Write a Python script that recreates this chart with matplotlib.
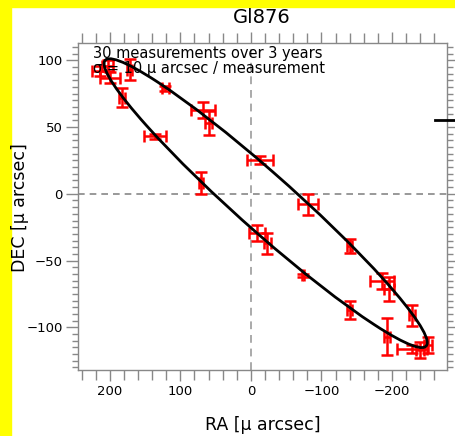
import matplotlib
matplotlib.use("Agg")
import matplotlib.pyplot as plt
from matplotlib.patches import Ellipse, Rectangle
from matplotlib.lines import Line2D
import numpy as np

plt.rcParams['font.family'] = ['DejaVu Sans']

# astrometric measurements (micro-arcsec)
ra = [214, 203, 200, 172, 183, 121, 136, 68, 60, 71, -13, -81, -140,
      -9, -23, -74, -186, -196, -228, -140, -193, -228, -240, -251]
dec = [92, 96, 87, 93, 72, 79, 43, 63, 53, 8, 25, -8, -39,
       -29, -37, -61, -65, -71, -91, -87, -107, -116, -117, -113]
ra_err = [11, 8, 14, 4, 4, 5, 16, 17, 5, 3, 18, 14, 4,
          11, 5, 2, 17, 7, 4, 4, 4, 21, 6, 6]
dec_err = [4, 4, 4, 8, 7, 2, 2, 6, 9, 8, 3, 8, 5,
           6, 8, 1, 6, 9, 8, 7, 14, 3, 6, 6]

# fitted orbit (ellipse in data units)
orbit_center = (-21, -7)
orbit_width = 504
orbit_height = 51
orbit_angle = 24.8

fig = plt.figure(figsize=(4.55, 4.36), dpi=100)
fig.patches.append(Rectangle((0, 0), 11 / 455, 1, transform=fig.transFigure,
                             color='#ffff00', zorder=-1))
fig.patches.append(Rectangle((0, 1 - 7 / 436), 1, 7 / 436, transform=fig.transFigure,
                             color='#ffff00', zorder=-1))

ax = fig.add_axes([78 / 455, 1 - 370 / 436, 369 / 455, 327 / 436])

ax.axvline(0, color='#aaaaaa', ls=(0, (4, 3)), lw=1.4, zorder=1)
ax.axhline(0, color='#888888', ls=(0, (4, 3)), lw=1.2, zorder=1)

ax.errorbar(ra, dec, xerr=ra_err, yerr=dec_err, fmt='none', ecolor='#ff0000',
            elinewidth=1.8, capsize=4.5, capthick=1.8, zorder=2)

ax.add_patch(Ellipse(orbit_center, orbit_width, orbit_height, angle=orbit_angle,
                     fill=False, ec='black', lw=2, zorder=3))

ax.set_xlim(245, -278)
ax.set_ylim(-132, 113)

ax.set_xticks([200, 100, 0, -100, -200])
ax.set_xticks(np.arange(240, -280, -20), minor=True)
ax.set_yticks([100, 50, 0, -50, -100])
ax.set_yticks(np.arange(-130, 115, 5), minor=True)
ax.tick_params(which='both', direction='out', color='#888888', top=True, right=True,
               labelsize=9.5, labelcolor='black', width=1)
ax.tick_params(axis='x', which='major', length=8, pad=3)
ax.tick_params(axis='x', which='minor', length=7)
ax.tick_params(axis='y', which='major', length=9, pad=2)
ax.tick_params(axis='y', which='minor', length=4.5)
for s in ax.spines.values():
    s.set_color('#888888')
    s.set_linewidth(1)

ax.set_xlabel('RA [μ arcsec]', fontsize=12.5)
ax.set_ylabel('DEC [μ arcsec]', fontsize=12.5)
ax.xaxis.set_label_coords(0.5, -0.141)
ax.yaxis.set_label_coords(-0.133, 0.498)

fig.text(262 / 455, 1 - 23 / 436, 'Gl876', ha='center', va='baseline', fontsize=14)
fig.text(93 / 455, 1 - 58 / 436, '30 measurements over 3 years', fontsize=10.5, va='baseline')
fig.text(93 / 455, 1 - 73 / 436, 'σ = 10 μ arcsec / measurement', fontsize=10.5, va='baseline')

fig.add_artist(Line2D([435 / 455, 1], [1 - 120 / 436] * 2, transform=fig.transFigure,
                      color='black', lw=2))

fig.savefig('out.png', dpi=100, facecolor='white')
